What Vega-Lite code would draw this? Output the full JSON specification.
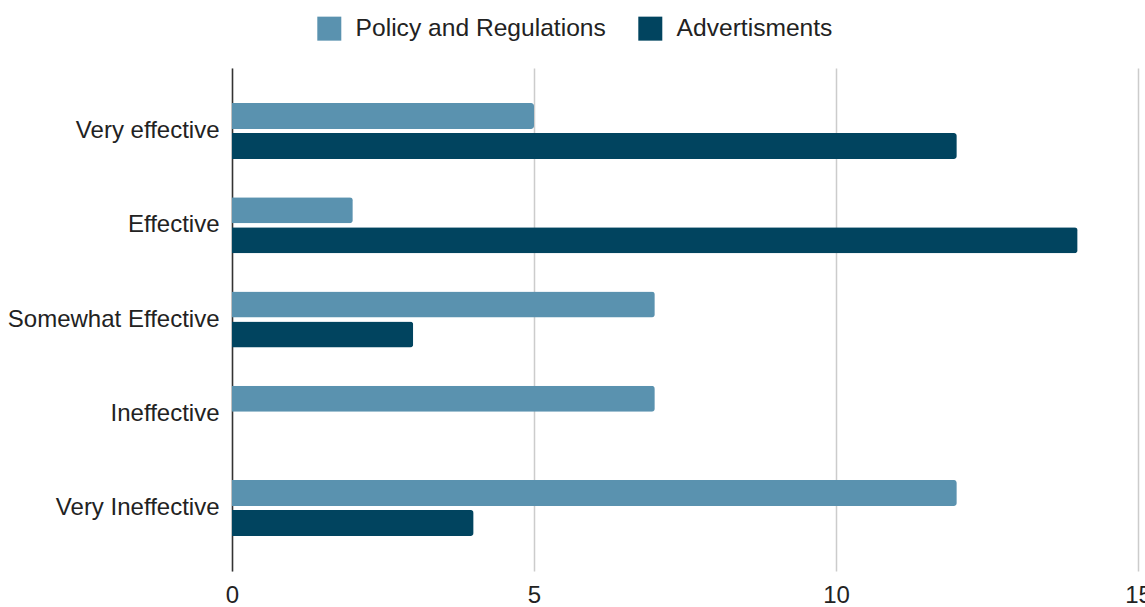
{
  "$schema": "https://vega.github.io/schema/vega-lite/v6.json",
  "width": 906,
  "height": 503,
  "autosize": "none",
  "padding": {"left": 232, "top": 68, "right": 7, "bottom": 36},
  "background": "white",
  "data": {
    "values": [
      {"category": "Very effective", "series": "Policy and Regulations", "value": 5},
      {"category": "Very effective", "series": "Advertisments", "value": 12},
      {"category": "Effective", "series": "Policy and Regulations", "value": 2},
      {"category": "Effective", "series": "Advertisments", "value": 14},
      {"category": "Somewhat Effective", "series": "Policy and Regulations", "value": 7},
      {"category": "Somewhat Effective", "series": "Advertisments", "value": 3},
      {"category": "Ineffective", "series": "Policy and Regulations", "value": 7},
      {"category": "Ineffective", "series": "Advertisments", "value": 0},
      {"category": "Very Ineffective", "series": "Policy and Regulations", "value": 12},
      {"category": "Very Ineffective", "series": "Advertisments", "value": 4}
    ]
  },
  "config": {
    "font": "Liberation Sans",
    "view": {"stroke": null}
  },
  "mark": {"type": "bar", "cornerRadiusEnd": 3},
  "encoding": {
    "y": {
      "field": "category",
      "type": "nominal",
      "sort": ["Very effective", "Effective", "Somewhat Effective", "Ineffective", "Very Ineffective"],
      "scale": {"paddingInner": 0.363, "paddingOuter": 0.35},
      "axis": {
        "title": null,
        "ticks": false,
        "labelFontSize": 24,
        "labelColor": "#222222",
        "labelPadding": 13,
        "labelLimit": 300,
        "domainColor": "#333333",
        "domainWidth": 1.5,
        "grid": false
      }
    },
    "yOffset": {
      "field": "series",
      "type": "nominal",
      "scale": {"domain": ["Policy and Regulations", "Advertisments"], "paddingInner": 0.133, "paddingOuter": 0.067}
    },
    "x": {
      "field": "value",
      "type": "quantitative",
      "scale": {"domain": [0, 15], "nice": false},
      "axis": {
        "title": null,
        "values": [0, 5, 10, 15],
        "ticks": false,
        "domain": false,
        "labelFontSize": 24,
        "labelColor": "#222222",
        "labelPadding": 12,
        "labelFlush": false,
        "labelOverlap": false,
        "gridColor": "#cccccc",
        "gridWidth": 1.5
      }
    },
    "color": {
      "field": "series",
      "type": "nominal",
      "scale": {"domain": ["Policy and Regulations", "Advertisments"], "range": ["#5a92af", "#01445f"]},
      "legend": {
        "title": null,
        "orient": "none",
        "direction": "horizontal",
        "legendX": 85,
        "legendY": -52,
        "symbolType": "square",
        "symbolSize": 576,
        "symbolStrokeWidth": 0,
        "symbolOpacity": 1,
        "labelFontSize": 24.6,
        "labelColor": "#222222",
        "labelOffset": 14,
        "columnPadding": 32,
        "labelLimit": 400
      }
    }
  }
}
